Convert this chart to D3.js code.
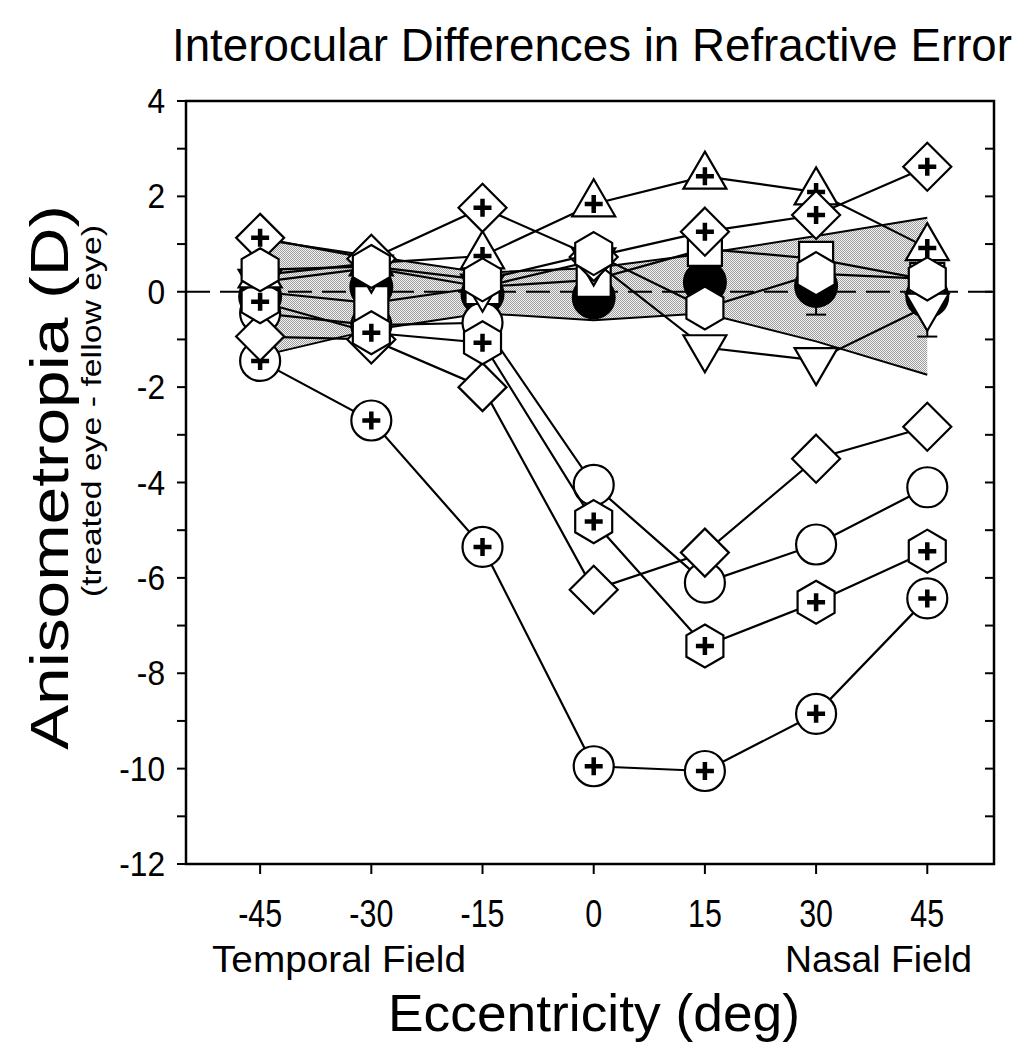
<!DOCTYPE html>
<html><head><meta charset="utf-8">
<script src="https://cdn.jsdelivr.net/npm/d3@7"></script>
<style>
html,body{margin:0;padding:0;background:#fff;}
svg{display:block;}
text{font-family:"Liberation Sans Narrow","Liberation Sans",Arial,sans-serif;fill:#000;}
</style></head>
<body>
<script>
// ---- data ----
const eccentricities = [-45, -30, -15, 0, 15, 30, 45];
const xTickLabels = ["-45", "-30", "-15", "0", "15", "30", "45"];
const yTickValues = [4, 2, 0, -2, -4, -6, -8, -10, -12];

const bandUpper = [1.10, 0.75, 0.40, 0.50, 0.80, 1.17, 1.55];
const bandLower = [-1.35, -0.80, -0.45, -0.60, -0.45, -1.04, -1.74];

const controlMean = [-0.10, 0.10, -0.05, -0.12, 0.20, 0.12, -0.10];
const controlErr  = [0.30, 0.30, 0.30, 0.30, 0.40, 0.60, 0.84];

const circleOpen  = [-0.45, -0.70, -0.65, -4.05, -6.10, -5.30, -4.10];
const circlePlus  = [-1.45, -2.70, -5.35, -9.95, -10.05, -8.85, -6.43];
const squareOpen  = [0.00, -0.24, 0.10, 0.25, 0.90, 0.69, 0.25];
const triDownOpen = [0.20, 0.50, 0.10, 0.65, -1.17, -1.44, -0.30];
const diamondOpen = [-0.94, -1.00, -2.00, -6.25, -5.47, -3.50, -2.83];
const hexPlus     = [-0.21, -0.86, -1.07, -4.82, -7.43, -6.51, -5.44];
const triUpPlus   = [0.35, 0.60, 0.75, 1.84, 2.42, 2.09, 0.92];
const diamondPlus = [1.13, 0.69, 1.76, 0.73, 1.26, 1.61, 2.62];
const hexOpen     = [0.46, 0.53, 0.25, 0.80, -0.34, 0.38, 0.27];

// drawing order (later on top)
const seriesList = [
  {values: circleOpen,  shape: "circle",   plus: false},
  {values: circlePlus,  shape: "circle",   plus: true},
  {values: squareOpen,  shape: "square",   plus: false},
  {values: triDownOpen, shape: "triDown",  plus: false},
  {values: diamondOpen, shape: "diamond",  plus: false},
  {values: hexPlus,     shape: "hexagon",  plus: true},
  {values: triUpPlus,   shape: "triUp",    plus: true},
  {values: diamondPlus, shape: "diamond",  plus: true},
  {values: hexOpen,     shape: "hexagon",  plus: false}
];

// ---- layout ----
const W = 1031, H = 1050;
const L = 186, R = 994, T = 101, B = 864;

const svg = d3.select("body").append("svg").attr("width", W).attr("height", H);

const x = d3.scaleLinear().domain([-55, 54]).range([L, R]);
const y = d3.scaleLinear().domain([-12, 4]).range([B, T]);

function label(px, py, str, size, anchor, sx, rot) {
  const g = svg.append("g").attr("transform",
    `translate(${px},${py})` + (rot ? ` rotate(${rot})` : "") + ` scale(${sx},1)`);
  return g.append("text").attr("x", 0).attr("y", 0).attr("font-size", size)
    .attr("text-anchor", anchor).text(str);
}

// stipple pattern
const defs = svg.append("defs");
const pat = defs.append("pattern").attr("id", "stipple").attr("patternUnits", "userSpaceOnUse")
  .attr("width", 2).attr("height", 2);
pat.append("rect").attr("width", 2).attr("height", 2).attr("fill", "#f4f4f4");
pat.append("rect").attr("x", 0).attr("y", 0).attr("width", 1).attr("height", 1).attr("fill", "#9c9c9c");
pat.append("rect").attr("x", 1).attr("y", 1).attr("width", 1).attr("height", 1).attr("fill", "#9c9c9c");

const bandData = eccentricities.map((e, i) => ({e, hi: bandUpper[i], lo: bandLower[i]}));
svg.append("path").datum(bandData)
  .attr("d", d3.area().x(d => x(d.e)).y0(d => y(d.lo)).y1(d => y(d.hi)))
  .attr("fill", "url(#stipple)");
svg.append("path").datum(bandData)
  .attr("d", d3.line().x(d => x(d.e)).y(d => y(d.hi)))
  .attr("fill", "none").attr("stroke", "#000").attr("stroke-width", 2);
svg.append("path").datum(bandData)
  .attr("d", d3.line().x(d => x(d.e)).y(d => y(d.lo)))
  .attr("fill", "none").attr("stroke", "#000").attr("stroke-width", 2);

// zero dashed line
svg.append("line").attr("x1", L).attr("x2", R).attr("y1", y(0)).attr("y2", y(0))
  .attr("stroke", "#000").attr("stroke-width", 2).attr("stroke-dasharray", "24,10");

// control mean with error bars
const meanG = svg.append("g");
eccentricities.forEach((e, i) => {
  const cx = x(e), m = controlMean[i], s = controlErr[i];
  meanG.append("line").attr("x1", cx).attr("x2", cx).attr("y1", y(m + s)).attr("y2", y(m - s))
    .attr("stroke", "#000").attr("stroke-width", 2);
  [m + s, m - s].forEach(v => meanG.append("line").attr("x1", cx - 10).attr("x2", cx + 10)
    .attr("y1", y(v)).attr("y2", y(v)).attr("stroke", "#000").attr("stroke-width", 2));
  meanG.append("circle").attr("cx", cx).attr("cy", y(m)).attr("r", 22).attr("fill", "#000");
});

// marker shapes
function shapePath(shape) {
  switch (shape) {
    case "diamond": return "M0,-24L24,0L0,24L-24,0Z";
    case "hexagon": return "M0,-21.5L18.5,-10.7L18.5,10.7L0,21.5L-18.5,10.7L-18.5,-10.7Z";
    case "triUp": return "M0,-24.7L21.5,12.3L-21.5,12.3Z";
    case "triDown": return "M0,24.7L21.5,-12.3L-21.5,-12.3Z";
    case "square": return "M-17,-17L17,-17L17,17L-17,17Z";
  }
  return null;
}

seriesList.forEach(s => {
  const g = svg.append("g");
  const pts = eccentricities.map((e, i) => ({e, v: s.values[i]}));
  g.append("path").datum(pts)
    .attr("d", d3.line().x(d => x(d.e)).y(d => y(d.v)))
    .attr("fill", "none").attr("stroke", "#000").attr("stroke-width", 2.2);
  const mk = g.selectAll("g.mk").data(pts).enter().append("g")
    .attr("transform", d => `translate(${x(d.e)},${y(d.v)})`);
  if (s.shape === "circle") {
    mk.append("circle").attr("r", 20).attr("fill", "#fff").attr("stroke", "#000").attr("stroke-width", 2.2);
  } else {
    mk.append("path").attr("d", shapePath(s.shape)).attr("fill", "#fff")
      .attr("stroke", "#000").attr("stroke-width", 2.2).attr("stroke-linejoin", "miter");
  }
  if (s.plus) {
    mk.append("path").attr("d", "M-9,0H9M0,-9V9").attr("stroke", "#000").attr("stroke-width", 4.5);
  }
});

// frame
svg.append("rect").attr("x", L).attr("y", T).attr("width", R - L).attr("height", B - T)
  .attr("fill", "none").attr("stroke", "#000").attr("stroke-width", 2.5);

// y axis ticks (left outward, right inward)
const yMinor = d3.range(-12, 5, 1);
yMinor.forEach(v => {
  svg.append("line").attr("x1", L - 9).attr("x2", L).attr("y1", y(v)).attr("y2", y(v))
    .attr("stroke", "#000").attr("stroke-width", 2);
  svg.append("line").attr("x1", R - 9).attr("x2", R).attr("y1", y(v)).attr("y2", y(v))
    .attr("stroke", "#000").attr("stroke-width", 2);
});
yTickValues.forEach(v => label(165, y(v) + 12, String(v), 36, "end", 0.88));

// x axis ticks (outward below)
eccentricities.forEach((e, i) => {
  svg.append("line").attr("x1", x(e)).attr("x2", x(e)).attr("y1", B).attr("y2", B + 10)
    .attr("stroke", "#000").attr("stroke-width", 2);
  label(x(e), 927, xTickLabels[i], 38, "middle", 0.8);
});

label(212, 972, "Temporal Field", 36, "start", 1).attr("textLength", 254).attr("lengthAdjust", "spacingAndGlyphs");
label(785, 972, "Nasal Field", 36, "start", 1).attr("textLength", 187).attr("lengthAdjust", "spacingAndGlyphs");
label(388, 1031, "Eccentricity (deg)", 52, "start", 1).attr("textLength", 412).attr("lengthAdjust", "spacingAndGlyphs");

// title
label(172, 61, "Interocular Differences in Refractive Error", 46, "start", 1)
  .attr("textLength", 840).attr("lengthAdjust", "spacingAndGlyphs");

// y titles
label(68, 750, "Anisometropia (D)", 54, "start", 1, -90)
  .attr("textLength", 545).attr("lengthAdjust", "spacingAndGlyphs");
label(101, 597, "(treated eye - fellow eye)", 28, "start", 1, -90)
  .attr("textLength", 372).attr("lengthAdjust", "spacingAndGlyphs");
</script>
</body></html>
